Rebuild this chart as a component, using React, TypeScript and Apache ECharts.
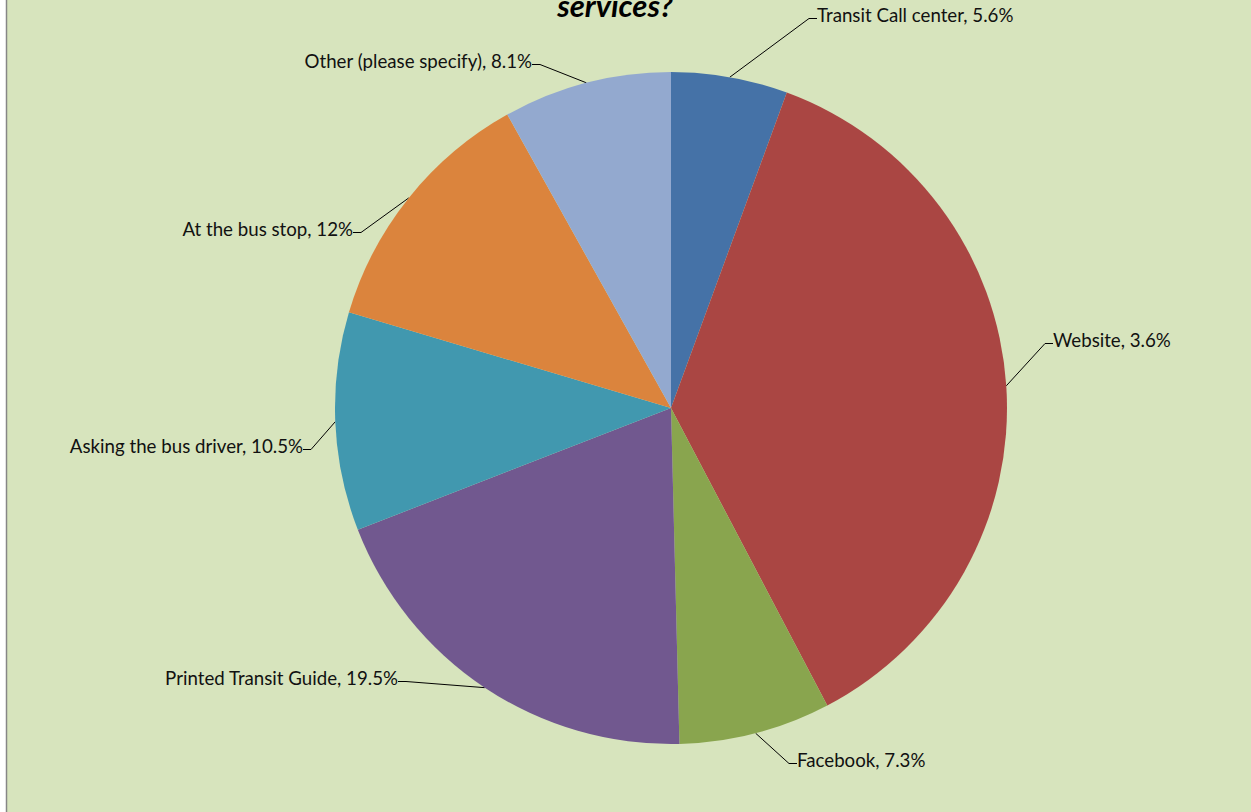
import React, { useEffect, useRef } from "react";
import * as echarts from "echarts";

const categories = [
  "Transit Call center",
  "Website",
  "Facebook",
  "Printed Transit Guide",
  "Asking the bus driver",
  "At the bus stop",
  "Other (please specify)",
];
const values = [5.6, 36.7, 7.3, 19.5, 10.5, 12.3, 8.1];
const labelPercents = ["5.6%", "3.6%", "7.3%", "19.5%", "10.5%", "12%", "8.1%"];
const colors = ["#4572A7", "#AA4643", "#89A54E", "#71588F", "#4198AF", "#DB843D", "#93A9CF"];
const titleText = "services?";

// label anchor positions (layout only): where each leader line meets its label
const labelAnchors: [number, number, string][] = [
  [813, 21, "left"],
  [1049, 346, "left"],
  [793, 766, "left"],
  [402, 684, "right"],
  [307, 452, "right"],
  [357, 235, "right"],
  [536, 67, "right"],
];

export default function App() {
  const ref = useRef<HTMLDivElement>(null);
  useEffect(() => {
    if (!ref.current) return;
    const chart = echarts.init(ref.current, null, { renderer: "svg" });
    chart.setOption({
      animation: false,
      backgroundColor: "#ffffff",
      graphic: [
        {
          type: "rect",
          z: -10,
          silent: true,
          shape: { x: 6.5, y: -2, width: 1260, height: 820 },
          style: { fill: "#D7E4BD", stroke: "#868686", lineWidth: 1.5 },
        },
        {
          type: "text",
          z: 10,
          x: 615,
          y: 20,
          style: {
            text: titleText,
            fontFamily: "Lato",
            fontWeight: "bold",
            fontStyle: "italic",
            fontSize: 31,
            fill: "#000",
            align: "center",
            verticalAlign: "bottom",
          },
        },
      ],
      series: [
        {
          type: "pie",
          center: [671, 408],
          radius: 336,
          startAngle: 90,
          clockwise: true,
          avoidLabelOverlap: false,
          itemStyle: { borderWidth: 0 },
          data: categories.map((c, i) => ({
            name: c,
            value: values[i],
            itemStyle: { color: colors[i] },
          })),
          label: {
            show: true,
            position: "outside",
            formatter: (p: any) => `{t|${p.name}, ${labelPercents[p.dataIndex]}}\n{s|}`,
            padding: [0, 4, 0, 4],
            rich: {
              t: { fontFamily: "Lato", fontSize: 18.7, color: "#111", lineHeight: 20 },
              s: { fontFamily: "Lato", fontSize: 1, lineHeight: 12 },
            },
          },
          labelLine: {
            show: true,
            length: 20,
            length2: 8,
            lineStyle: { color: "#000", width: 1 },
          },
          labelLayout: (params: any) => {
            const a = labelAnchors[params.dataIndex];
            return { x: a[0], y: a[1], align: a[2], verticalAlign: "middle" };
          },
          emphasis: { disabled: true },
        },
      ],
    });
    return () => chart.dispose();
  }, []);
  return (
    <div style={{ position: "fixed", left: 0, top: 0, width: 1251, height: 812 }}>
      <div ref={ref} style={{ width: 1251, height: 812 }} />
    </div>
  );
}
